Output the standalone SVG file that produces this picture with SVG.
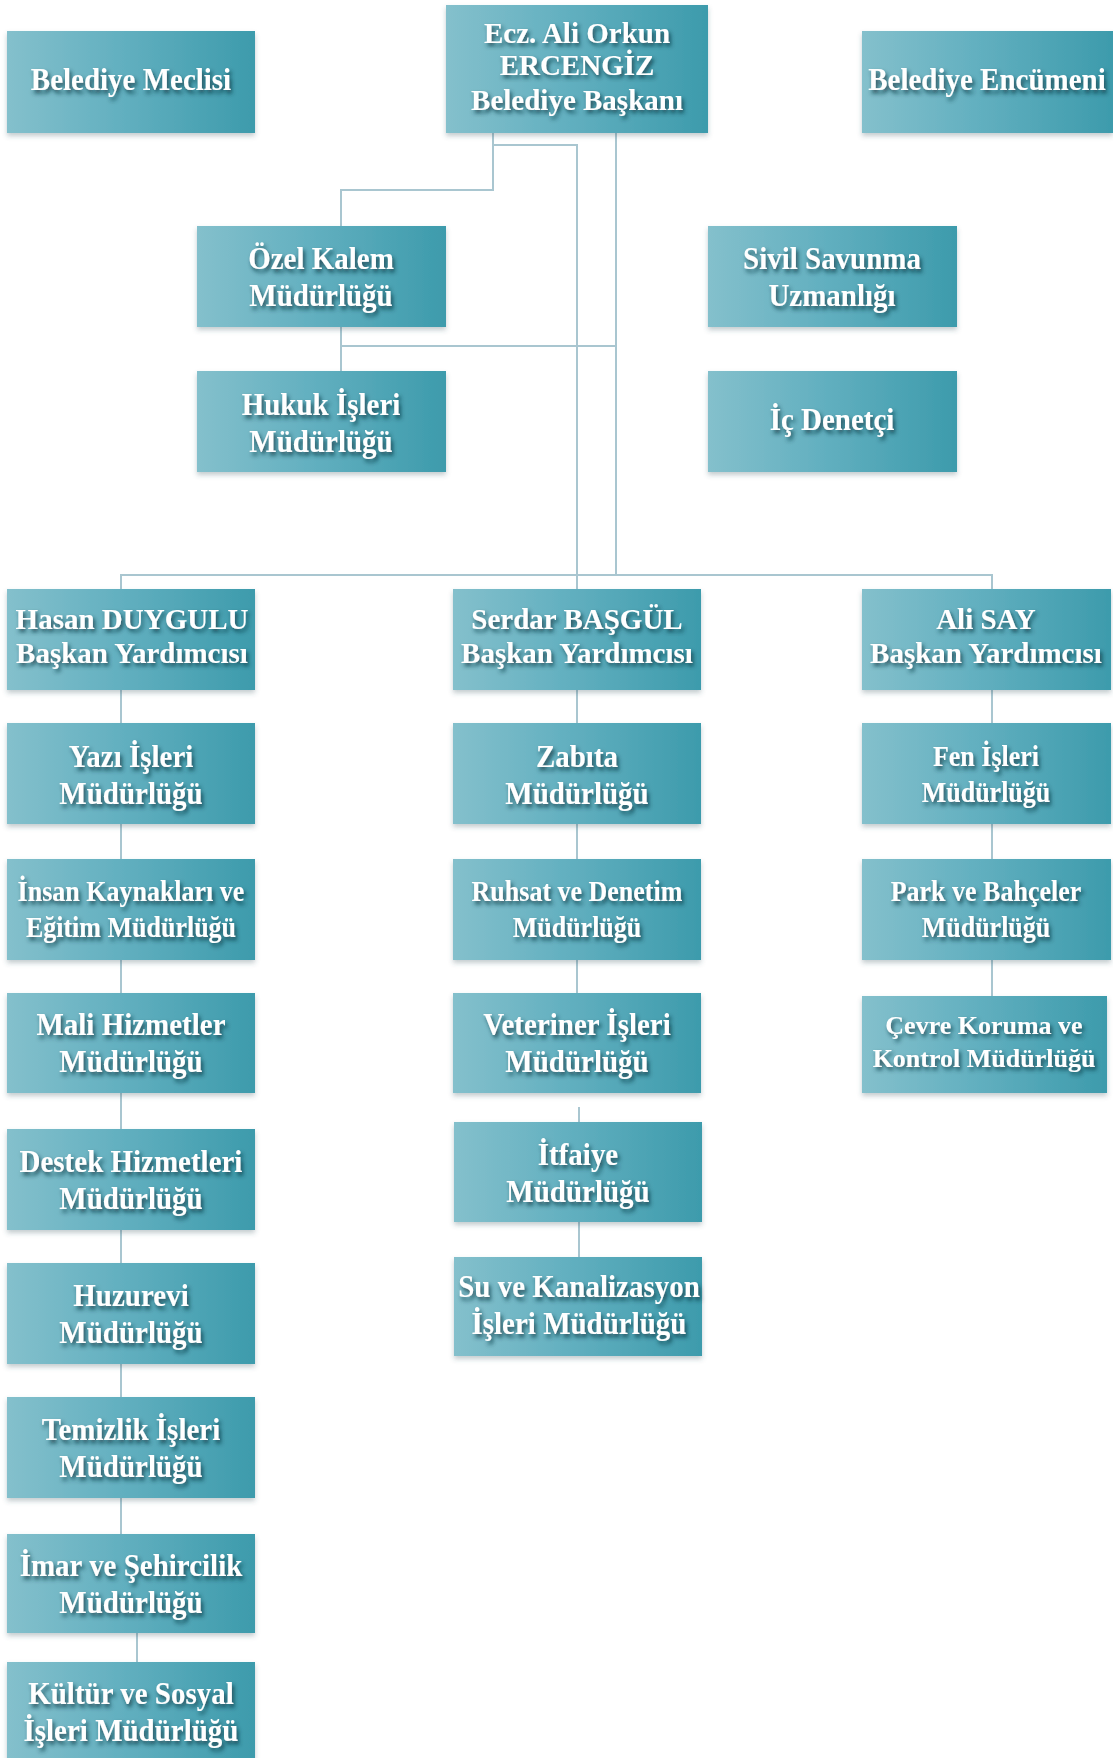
<svg xmlns="http://www.w3.org/2000/svg" width="1113" height="1758" viewBox="0 0 1113 1758">
<defs>
<linearGradient id="bg" x1="0" y1="0" x2="1" y2="0">
<stop offset="0" stop-color="#84c0cc"/>
<stop offset="0.45" stop-color="#63b0c0"/>
<stop offset="1" stop-color="#3d9bac"/>
</linearGradient>
<filter id="bs" x="-5%" y="-10%" width="110%" height="130%">
<feDropShadow dx="0" dy="3" stdDeviation="2.5" flood-color="#3a5560" flood-opacity="0.3"/>
</filter>
<filter id="ts" x="-10%" y="-30%" width="120%" height="170%">
<feDropShadow dx="2" dy="3" stdDeviation="2" flood-color="#0e3440" flood-opacity="0.8"/>
</filter>
</defs>
<style>
.box{fill:url(#bg);filter:url(#bs)}
.t{font-family:"Liberation Serif","Times New Roman",serif;font-weight:bold;font-size:29px;fill:#ffffff;text-anchor:middle;filter:url(#ts);transform-box:fill-box;transform-origin:center;transform:scaleY(1.12)}
.n{transform:none}
.s{font-size:26px}
.c{fill:none;stroke:#a9c6d0;stroke-width:2}
</style>
<rect width="1113" height="1758" fill="#ffffff"/>
<g id="connectors">
<path class="c" d="M493,133 V190 H341 V226"/>
<path class="c" d="M493,145 H577 V589"/>
<path class="c" d="M616,133 V575"/>
<path class="c" d="M121,589 V575 H992 V589"/>
<path class="c" d="M341,327 V371"/>
<path class="c" d="M341,346 H616"/>
<path class="c" d="M121,690 V723 M121,824 V859 M121,960 V993 M121,1093 V1129 M121,1230 V1263 M121,1364 V1397 M121,1498 V1534 M137,1633 V1662"/>
<path class="c" d="M577,690 V723 M577,824 V859 M577,960 V993 M579,1107 V1122 M579,1222 V1257"/>
<path class="c" d="M992,690 V723 M992,824 V859 M992,960 V996"/>
</g>
<g id="belediye-meclisi"><rect class="box" x="7" y="31" width="248" height="102"/><text class="t" x="131" y="89">Belediye Meclisi</text></g>
<g id="baskan"><rect class="box" x="446" y="5" width="262" height="128"/><text class="t n" x="577" y="43">Ecz. Ali Orkun</text><text class="t n" x="577" y="75">ERCENGİZ</text><text class="t n" x="577" y="110">Belediye Başkanı</text></g>
<g id="belediye-encumeni"><rect class="box" x="862" y="31" width="251" height="102"/><text class="t" x="987" y="89">Belediye Encümeni</text></g>
<g id="ozel-kalem"><rect class="box" x="197" y="226" width="249" height="101"/><text class="t" x="321" y="268">Özel Kalem</text><text class="t" x="321" y="305">Müdürlüğü</text></g>
<g id="sivil-savunma"><rect class="box" x="708" y="226" width="249" height="101"/><text class="t" x="832" y="268">Sivil Savunma</text><text class="t" x="832" y="305">Uzmanlığı</text></g>
<g id="hukuk"><rect class="box" x="197" y="371" width="249" height="101"/><text class="t" x="321" y="414">Hukuk İşleri</text><text class="t" x="321" y="451">Müdürlüğü</text></g>
<g id="ic-denetci"><rect class="box" x="708" y="371" width="249" height="101"/><text class="t" x="832" y="429">İç Denetçi</text></g>
<g id="hasan"><rect class="box" x="7" y="589" width="248" height="101"/><text class="t n" x="132" y="629">Hasan DUYGULU</text><text class="t n" x="132" y="663">Başkan Yardımcısı</text></g>
<g id="serdar"><rect class="box" x="453" y="589" width="248" height="101"/><text class="t n" x="577" y="629">Serdar BAŞGÜL</text><text class="t n" x="577" y="663">Başkan Yardımcısı</text></g>
<g id="ali-say"><rect class="box" x="862" y="589" width="249" height="101"/><text class="t n" x="986" y="629">Ali SAY</text><text class="t n" x="986" y="663">Başkan Yardımcısı</text></g>
<g id="yazi-isleri"><rect class="box" x="7" y="723" width="248" height="101"/><text class="t" x="131" y="766">Yazı İşleri</text><text class="t" x="131" y="803">Müdürlüğü</text></g>
<g id="zabita"><rect class="box" x="453" y="723" width="248" height="101"/><text class="t" x="577" y="766">Zabıta</text><text class="t" x="577" y="803">Müdürlüğü</text></g>
<g id="fen-isleri"><rect class="box" x="862" y="723" width="249" height="101"/><text class="t s" x="986" y="765">Fen İşleri</text><text class="t s" x="986" y="801">Müdürlüğü</text></g>
<g id="insan-kaynaklari"><rect class="box" x="7" y="859" width="248" height="101"/><text class="t s" x="131" y="900">İnsan Kaynakları ve</text><text class="t s" x="131" y="936">Eğitim Müdürlüğü</text></g>
<g id="ruhsat"><rect class="box" x="453" y="859" width="248" height="101"/><text class="t s" x="577" y="900">Ruhsat ve Denetim</text><text class="t s" x="577" y="936">Müdürlüğü</text></g>
<g id="park"><rect class="box" x="862" y="859" width="249" height="101"/><text class="t s" x="986" y="900">Park ve Bahçeler</text><text class="t s" x="986" y="936">Müdürlüğü</text></g>
<g id="mali"><rect class="box" x="7" y="993" width="248" height="100"/><text class="t" x="131" y="1034">Mali Hizmetler</text><text class="t" x="131" y="1071">Müdürlüğü</text></g>
<g id="veteriner"><rect class="box" x="453" y="993" width="248" height="100"/><text class="t" x="577" y="1034">Veteriner İşleri</text><text class="t" x="577" y="1071">Müdürlüğü</text></g>
<g id="cevre"><rect class="box" x="862" y="996" width="245" height="97"/><text class="t s n" x="984" y="1034">Çevre Koruma ve</text><text class="t s n" x="984" y="1067">Kontrol Müdürlüğü</text></g>
<g id="destek"><rect class="box" x="7" y="1129" width="248" height="101"/><text class="t" x="131" y="1171">Destek Hizmetleri</text><text class="t" x="131" y="1208">Müdürlüğü</text></g>
<g id="itfaiye"><rect class="box" x="454" y="1122" width="248" height="100"/><text class="t" x="578" y="1164">İtfaiye</text><text class="t" x="578" y="1201">Müdürlüğü</text></g>
<g id="su-kanalizasyon"><rect class="box" x="454" y="1257" width="248" height="99"/><text class="t" x="579" y="1296">Su ve Kanalizasyon</text><text class="t" x="579" y="1333">İşleri Müdürlüğü</text></g>
<g id="huzurevi"><rect class="box" x="7" y="1263" width="248" height="101"/><text class="t" x="131" y="1305">Huzurevi</text><text class="t" x="131" y="1342">Müdürlüğü</text></g>
<g id="temizlik"><rect class="box" x="7" y="1397" width="248" height="101"/><text class="t" x="131" y="1439">Temizlik İşleri</text><text class="t" x="131" y="1476">Müdürlüğü</text></g>
<g id="imar"><rect class="box" x="7" y="1534" width="248" height="99"/><text class="t" x="131" y="1575">İmar ve Şehircilik</text><text class="t" x="131" y="1612">Müdürlüğü</text></g>
<g id="kultur"><rect class="box" x="7" y="1662" width="248" height="100"/><text class="t" x="131" y="1703">Kültür ve Sosyal</text><text class="t" x="131" y="1740">İşleri Müdürlüğü</text></g>
</svg>
